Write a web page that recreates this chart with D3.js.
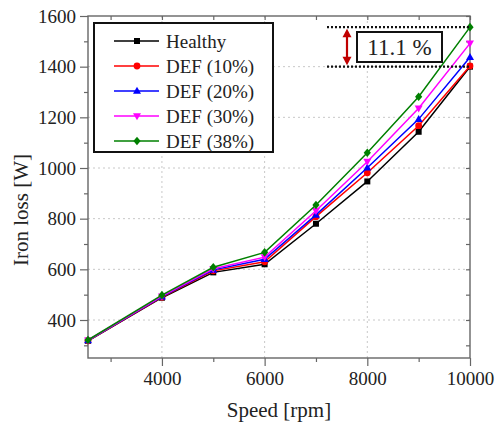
<!DOCTYPE html>
<html>
<head>
<meta charset="utf-8">
<script src="https://cdn.jsdelivr.net/npm/d3@7"></script>
<style>
  html, body { margin: 0; padding: 0; background: #fff; }
  svg { display: block; }
  text { font-family: "Liberation Serif", "Times New Roman", serif; fill: #222; }
</style>
</head>
<body>
<svg id="chart" width="497" height="434"></svg>
<script>
// Iron loss versus speed for the healthy machine and four DEF levels
const speed   = [2560, 4000, 5000, 6000, 7000, 8000, 9000, 10000];
const healthy = [318, 488, 588, 620, 780, 947, 1143, 1400];
const def10   = [318, 490, 594, 630, 808, 981, 1167, 1403];
const def20   = [319, 492, 598, 640, 815, 1001, 1193, 1437];
const def30   = [320, 494, 602, 648, 831, 1025, 1236, 1492];
const def38   = [321, 498, 608, 667, 854, 1060, 1281, 1556];

const seriesNames  = ["Healthy", "DEF (10%)", "DEF (20%)", "DEF (30%)", "DEF (38%)"];
const seriesValues = [healthy, def10, def20, def30, def38];
const seriesColors = ["#000000", "#ff0000", "#0000ff", "#ff00ff", "#008000"];
const seriesSymbols = ["square", "circle", "triUp", "triDown", "diamond"];

const xMajorTicks = [4000, 6000, 8000, 10000];
const xMinorTicks = [3000, 5000, 7000, 9000];
const yMajorTicks = [400, 600, 800, 1000, 1200, 1400, 1600];
const yMinorTicks = [300, 500, 700, 900, 1100, 1300, 1500];
const increaseLabel = "11.1 %";

const svg = d3.select("#chart");
const L = 88, R = 470, T = 16, B = 358;

const x = d3.scaleLinear().domain([2560, 10000]).range([L, R]);
const y = d3.scaleLinear().domain([250, 1600]).range([B, T]);

// dotted grid
const grid = svg.append("g");
grid.selectAll(".gx").data([4000, 6000, 8000]).join("line")
  .attr("x1", d => x(d)).attr("x2", d => x(d)).attr("y1", T).attr("y2", B)
  .attr("stroke", "#c8c8c8").attr("stroke-width", 1).attr("stroke-dasharray", "2,3");
grid.selectAll(".gy").data([400, 600, 800, 1000, 1200, 1400]).join("line")
  .attr("x1", L).attr("x2", R).attr("y1", d => y(d)).attr("y2", d => y(d))
  .attr("stroke", "#c8c8c8").attr("stroke-width", 1).attr("stroke-dasharray", "2,3");

// axes with outward ticks (left, bottom)
const axisColor = "#666";
function styleAxis(g) {
  g.select(".domain").remove();
  g.selectAll(".tick line").attr("stroke", axisColor).attr("stroke-width", 1.2);
  g.selectAll(".tick text").attr("font-size", "19px")
    .style("font-family", "'Liberation Serif', serif").attr("fill", "#222");
}
svg.append("g").attr("transform", `translate(0,${B})`)
  .call(d3.axisBottom(x).tickValues(xMajorTicks).tickSize(8).tickPadding(6).tickFormat(d3.format("d")))
  .call(styleAxis);
svg.append("g").attr("transform", `translate(0,${B})`)
  .call(d3.axisBottom(x).tickValues(xMinorTicks).tickSize(4).tickFormat(""))
  .call(styleAxis);
svg.append("g").attr("transform", `translate(${L},0)`)
  .call(d3.axisLeft(y).tickValues(yMajorTicks).tickSize(8).tickPadding(4).tickFormat(d3.format("d")))
  .call(styleAxis);
svg.append("g").attr("transform", `translate(${L},0)`)
  .call(d3.axisLeft(y).tickValues(yMinorTicks).tickSize(4).tickFormat(""))
  .call(styleAxis);
// inward ticks on the top and right edges
svg.append("g").attr("transform", `translate(0,${T})`)
  .call(d3.axisBottom(x).tickValues(xMajorTicks.concat(xMinorTicks)).tickSize(4).tickFormat(""))
  .call(styleAxis);
svg.append("g").attr("transform", `translate(${R},0)`)
  .call(d3.axisLeft(y).tickValues(yMajorTicks.concat(yMinorTicks)).tickSize(4).tickFormat(""))
  .call(styleAxis);

// frame
svg.append("rect").attr("x", L).attr("y", T).attr("width", R - L).attr("height", B - T)
  .attr("fill", "none").attr("stroke", axisColor).attr("stroke-width", 1.4);

// axis titles
svg.append("text").attr("x", 279).attr("y", 417).attr("text-anchor", "middle")
  .attr("font-size", "21px").text("Speed [rpm]");
svg.append("text").attr("transform", "translate(28,210) rotate(-90)").attr("text-anchor", "middle")
  .attr("font-size", "21px").text("Iron loss [W]");

// markers
function marker(g, kind, color, cx, cy) {
  if (kind === "square") {
    g.append("rect").attr("x", cx - 3).attr("y", cy - 3).attr("width", 6).attr("height", 6).attr("fill", color);
  } else if (kind === "circle") {
    g.append("circle").attr("cx", cx).attr("cy", cy).attr("r", 3.4).attr("fill", color);
  } else if (kind === "triUp") {
    g.append("path").attr("d", `M${cx},${cy - 4.2}L${cx + 4},${cy + 2.8}L${cx - 4},${cy + 2.8}Z`).attr("fill", color);
  } else if (kind === "triDown") {
    g.append("path").attr("d", `M${cx},${cy + 4.2}L${cx + 4},${cy - 2.8}L${cx - 4},${cy - 2.8}Z`).attr("fill", color);
  } else {
    g.append("path").attr("d", `M${cx},${cy - 4.3}L${cx + 3.6},${cy}L${cx},${cy + 4.3}L${cx - 3.6},${cy}Z`).attr("fill", color);
  }
}

// series lines and markers
const line = d3.line().x(d => x(d[0])).y(d => y(d[1]));
seriesValues.forEach((vals, i) => {
  const pts = speed.map((s, j) => [s, vals[j]]);
  const g = svg.append("g");
  g.append("path").datum(pts).attr("d", line)
    .attr("fill", "none").attr("stroke", seriesColors[i]).attr("stroke-width", 1.5);
  pts.forEach(p => marker(g, seriesSymbols[i], seriesColors[i], x(p[0]), y(p[1])));
});

// legend
const lg = svg.append("g");
lg.append("rect").attr("x", 94).attr("y", 23).attr("width", 179).attr("height", 129)
  .attr("fill", "#fff").attr("stroke", "#111").attr("stroke-width", 2);
seriesNames.forEach((name, i) => {
  const ly = 41 + i * 25;
  lg.append("line").attr("x1", 114).attr("x2", 159).attr("y1", ly).attr("y2", ly)
    .attr("stroke", seriesColors[i]).attr("stroke-width", 1.5);
  marker(lg, seriesSymbols[i], seriesColors[i], 137, ly);
  lg.append("text").attr("x", 166).attr("y", ly + 6.5).attr("font-size", "19px").text(name);
});

// difference annotation between healthy and DEF (38%) at top speed
const yTop = y(def38[def38.length - 1]);
const yBot = y(healthy[healthy.length - 1]);
const ann = svg.append("g");
[yTop, yBot].forEach(yy => {
  ann.append("line").attr("x1", 327).attr("x2", R).attr("y1", yy).attr("y2", yy)
    .attr("stroke", "#111").attr("stroke-width", 2.2).attr("stroke-dasharray", "2,2");
});
const ax = 347, arrowColor = "#c00000";
ann.append("line").attr("x1", ax).attr("x2", ax).attr("y1", yTop + 6).attr("y2", yBot - 6)
  .attr("stroke", arrowColor).attr("stroke-width", 2.2);
ann.append("path").attr("d", `M${ax},${yTop + 1.5}L${ax + 4.5},${yTop + 10}L${ax - 4.5},${yTop + 10}Z`).attr("fill", arrowColor);
ann.append("path").attr("d", `M${ax},${yBot - 1.5}L${ax + 4.5},${yBot - 10}L${ax - 4.5},${yBot - 10}Z`).attr("fill", arrowColor);
ann.append("rect").attr("x", 357).attr("y", 32).attr("width", 85).attr("height", 30)
  .attr("fill", "#fff").attr("stroke", "#111").attr("stroke-width", 2);
ann.append("text").attr("x", 399.5).attr("y", 55).attr("text-anchor", "middle")
  .attr("font-size", "23px").text(increaseLabel);
</script>
</body>
</html>
